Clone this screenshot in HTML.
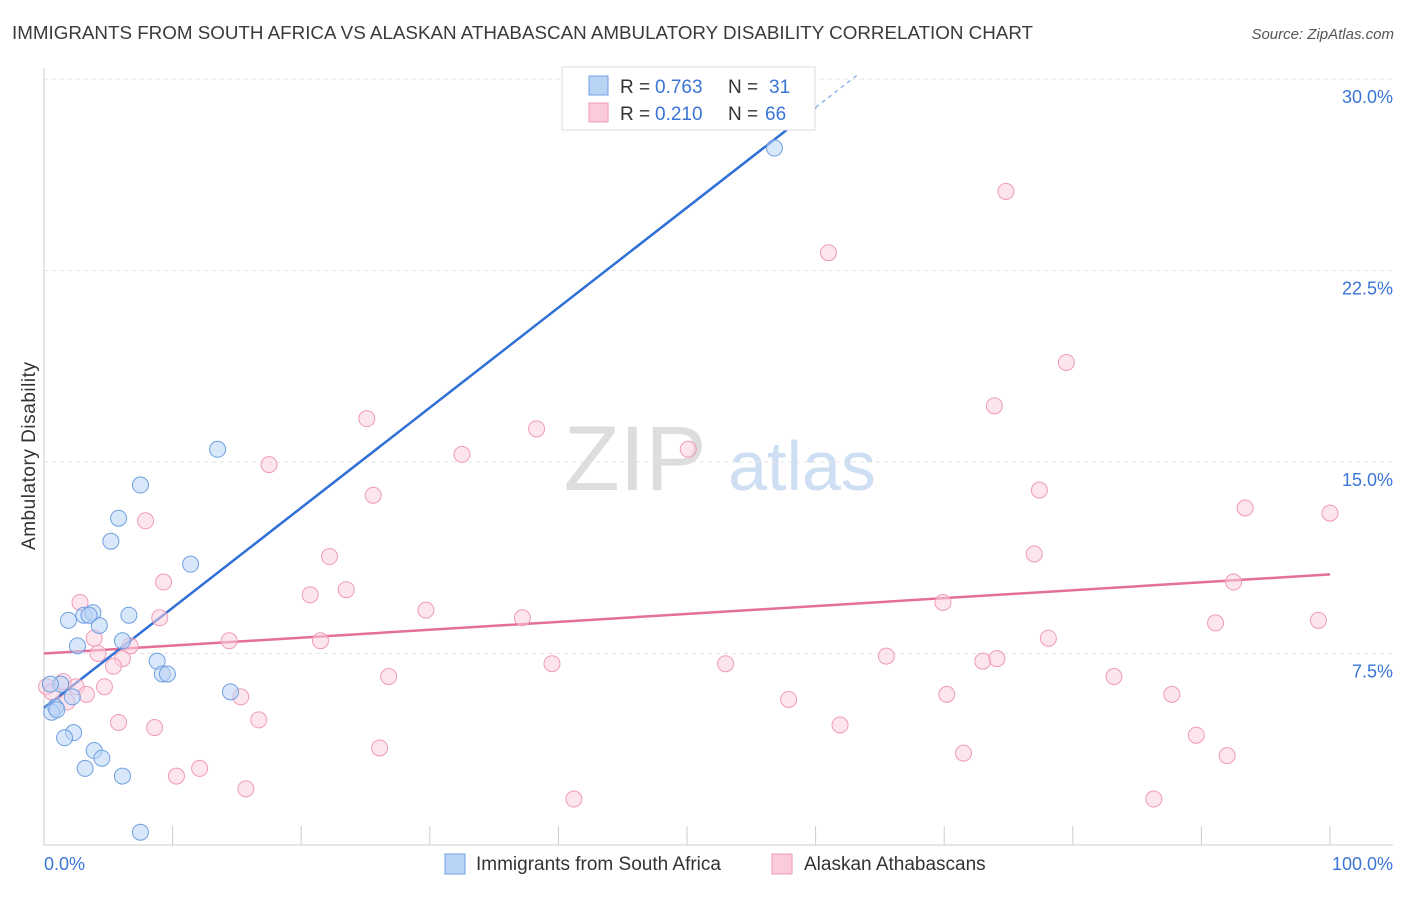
<!DOCTYPE html>
<html><head><meta charset="utf-8"><style>
body{margin:0;background:#fff;font-family:"Liberation Sans",sans-serif;}
svg text{font-family:"Liberation Sans",sans-serif;}
</style></head><body>
<svg id="chart" width="1406" height="892" xmlns="http://www.w3.org/2000/svg">
<text x="12" y="39" font-size="18.8" fill="#3a3a3a">IMMIGRANTS FROM SOUTH AFRICA VS ALASKAN ATHABASCAN AMBULATORY DISABILITY CORRELATION CHART</text>
<text x="1394" y="39" font-size="15" fill="#555" text-anchor="end" font-style="italic">Source: ZipAtlas.com</text>
<text transform="translate(35,456) rotate(-90)" font-size="19" fill="#333" text-anchor="middle" textLength="188">Ambulatory Disability</text>
<g>
<text x="635" y="490" font-size="92" fill="#ddd" text-anchor="middle" font-family="Liberation Serif">ZIP</text>
<text x="802" y="490" font-size="70" fill="#cfdff3" text-anchor="middle">atlas</text>
</g>
<g id="grid"></g><g id="axes"></g><g id="lines"></g><g id="pts"></g>
<g>
<rect x="562" y="67" width="253" height="63" fill="#fff" stroke="#ddd"/>
<rect x="589" y="76" width="19" height="19" fill="#b9d3f5" stroke="#6f9fe0"/>
<rect x="589" y="103" width="19" height="19" fill="#fbcbdb" stroke="#ef9ab8"/>
<text x="620" y="93" font-size="19" fill="#333">R =</text>
<text x="655" y="93" font-size="19" fill="#3a75d6">0.763</text>
<text x="728" y="93" font-size="19" fill="#333">N =</text>
<text x="769" y="93" font-size="19" fill="#3a75d6">31</text>
<text x="620" y="120" font-size="19" fill="#333">R =</text>
<text x="655" y="120" font-size="19" fill="#3a75d6">0.210</text>
<text x="728" y="120" font-size="19" fill="#333">N =</text>
<text x="765" y="120" font-size="19" fill="#3a75d6">66</text>
</g>
<g>
<rect x="445" y="854" width="20" height="20" fill="#b9d3f5" stroke="#6f9fe0"/>
<text x="476" y="870" font-size="19" fill="#333">Immigrants from South Africa</text>
<rect x="772" y="854" width="20" height="20" fill="#fbcbdb" stroke="#ef9ab8"/>
<text x="804" y="870" font-size="19" fill="#333">Alaskan Athabascans</text>
</g>
</svg>
<script>
const yTicks=[7.5,15,22.5,30];
const yTickLabels=["7.5%","15.0%","22.5%","30.0%"];
const blueX=[56.8,13.5,7.5,5.8,5.2,11.4,3.1,3.8,6.6,1.9,4.3,2.6,6.1,8.8,9.2,9.6,1.3,0.5,2.2,14.5,0.9,0.6,2.3,1.6,3.9,4.5,3.2,6.1,7.5,3.5,1.0];
const blueY=[27.3,15.5,14.1,12.8,11.9,11.0,9.0,9.1,9.0,8.8,8.6,7.8,8.0,7.2,6.7,6.7,6.3,6.3,5.8,6.0,5.4,5.2,4.4,4.2,3.7,3.4,3.0,2.7,0.5,9.0,5.3];
const pinkX=[74.8,61,79.5,73.9,25.1,38.3,50.1,32.5,17.5,25.6,77.4,93.4,100,7.9,22.2,77,9.3,23.5,92.5,20.7,2.8,69.9,29.7,9.0,37.2,91.1,99.1,3.9,21.5,14.4,78.1,6.7,4.2,6.1,5.4,65.5,39.5,53,73,74.1,26.8,83.2,0.2,1.5,2.5,4.7,3.3,15.3,70.2,87.7,1.8,57.9,5.8,16.7,8.6,61.9,26.1,71.5,89.6,92,12.1,10.3,15.7,41.2,86.3,0.6];
const pinkY=[25.6,23.2,18.9,17.2,16.7,16.3,15.5,15.3,14.9,13.7,13.9,13.2,13.0,12.7,11.3,11.4,10.3,10.0,10.3,9.8,9.5,9.5,9.2,8.9,8.9,8.7,8.8,8.1,8.0,8.0,8.1,7.8,7.5,7.3,7.0,7.4,7.1,7.1,7.2,7.3,6.6,6.6,6.2,6.4,6.2,6.2,5.9,5.8,5.9,5.9,5.6,5.7,4.8,4.9,4.6,4.7,3.8,3.6,4.3,3.5,3.0,2.7,2.2,1.8,1.8,6.0];
const blueFit=[5.37,0.392];
const pinkFit=[7.5,0.031];
const X=v=>44+v*12.86, Y=v=>845-v*25.53;
const NS="http://www.w3.org/2000/svg";
function mk(t,a,p){const e=document.createElementNS(NS,t);for(const k in a)e.setAttribute(k,a[k]);document.getElementById(p).appendChild(e);return e;}
yTicks.forEach((t,i)=>{
 const g=mk('line',{x1:44,x2:1393,y1:Y(t),y2:Y(t),stroke:'#e4e4e4','stroke-dasharray':'4,4'},'grid');
 
 
 const l=mk('text',{x:1393,y:Y(t)+24,'font-size':18,fill:'#3a75d6','text-anchor':'end'},'grid');
 l.textContent=yTickLabels[i];
 
 
});
let a=mk('line',{x1:44,x2:44,y1:68,y2:845,stroke:'#ccc'},'axes');


a=mk('line',{x1:44,x2:1393,y1:845,y2:845,stroke:'#ccc'},'axes');


for(let i=0;i<=10;i++){const t=mk('line',{x1:X(i*10),x2:X(i*10),y1:826,y2:845,stroke:'#ccc'},'axes');
 
 }
let t=mk('text',{x:44,y:870,'font-size':18,fill:'#3a75d6'},'axes');t.textContent='0.0%';


t=mk('text',{x:1393,y:870,'font-size':18,fill:'#3a75d6','text-anchor':'end'},'axes');t.textContent='100.0%';


function pts(xs,ys,fill,stroke,name){xs.forEach((x,i)=>{const c=mk('circle',{cx:X(x),cy:Y(ys[i]),r:8,fill:fill,'fill-opacity':0.55,stroke:stroke,'stroke-width':1},'pts');
 
 });}
pts(pinkX,pinkY,'#fbd0de','#ef9ab8','pink-point');
pts(blueX,blueY,'#b9d3f5','#6f9fe0','blue-point');
let ln=mk('line',{x1:X(0),y1:Y(pinkFit[0]),x2:X(100),y2:Y(pinkFit[0]+pinkFit[1]*100),stroke:'#e4709a','stroke-width':2.5},'lines');


ln=mk('line',{x1:X(0),y1:Y(blueFit[0]),x2:X(60),y2:Y(blueFit[0]+blueFit[1]*60),stroke:'#2f6fd6','stroke-width':2.5},'lines');


ln=mk('line',{x1:X(60),y1:Y(blueFit[0]+blueFit[1]*60),x2:X(63.2),y2:Y(blueFit[0]+blueFit[1]*63.2),stroke:'#8fb3ea','stroke-width':1.5,'stroke-dasharray':'4,4'},'lines');


</script>
</body></html>
